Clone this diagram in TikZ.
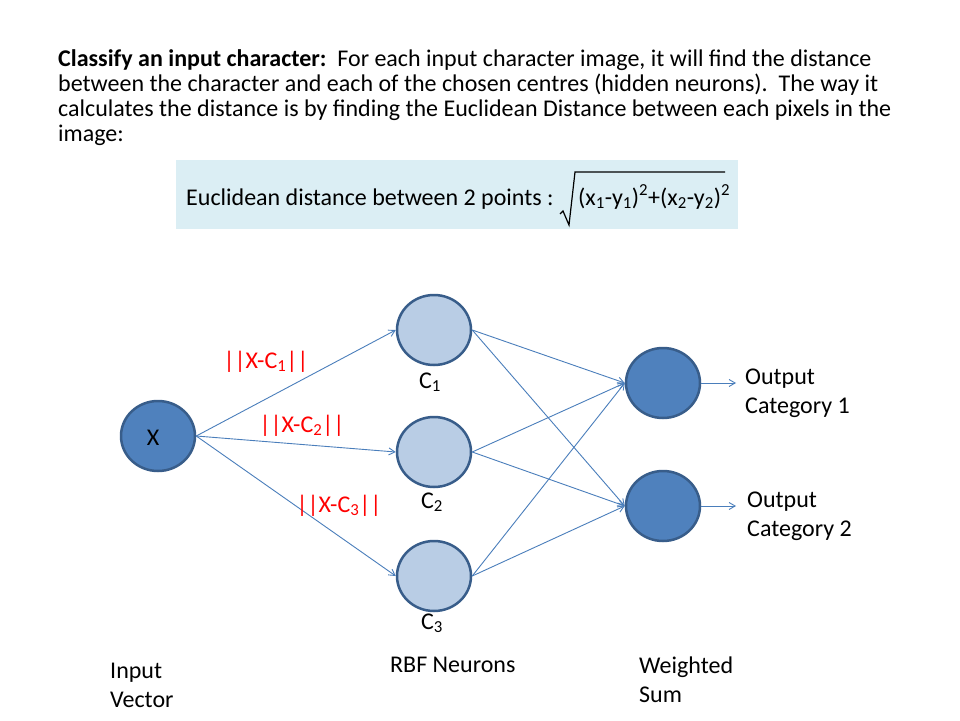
\documentclass[tikz,border=0pt]{standalone}
\usepackage{fontspec}
\setmainfont{Carlito}
\usetikzlibrary{arrows.meta,shapes.geometric}
\definecolor{darkfill}{HTML}{4F81BD}
\definecolor{ringcol}{HTML}{385D8A}
\definecolor{lightfill}{HTML}{B9CDE5}
\definecolor{boxfill}{HTML}{DBEEF4}
\definecolor{edgecol}{HTML}{4A7EBB}
\begin{document}
\begin{tikzpicture}[x=1pt,y=-1pt,
  txt/.style={font=\fontsize{24}{24.7}\selectfont, inner sep=0pt, anchor=base west, align=left, text=black},
  wide/.style={txt, font=\fontsize{24}{29}\selectfont},
  lbl/.style={font=\fontsize{24}{24.7}\selectfont, inner sep=0pt, anchor=base, text=black},
  redlbl/.style={font=\fontsize{24}{24.7}\selectfont, inner sep=0pt, anchor=base, text=red},
  neuron/.style={ellipse, minimum width=74pt, minimum height=70pt, inner sep=0pt, draw=ringcol, line width=2.5pt},
  darkn/.style={neuron, fill=darkfill},
  lightn/.style={neuron, fill=lightfill},
  conn/.style={draw=edgecol, line width=0.9pt, -{Straight Barb[angle=60:7pt]}}
]
\useasboundingbox (0,0) rectangle (960,720);
\fill[white] (0,0) rectangle (960,720);

% intro text (anchor = baseline of last line)
\node[txt] (intro) at (58,141) {\textbf{Classify an input character:}\ \ For each input character image, it will find the distance\\
between the character and each of the chosen centres (hidden neurons).\ \ The way it\\
calculates the distance is by finding the Euclidean Distance between each pixels in the\\
image:};

% formula box
\node[fill=boxfill, minimum width=562pt, minimum height=69pt, inner sep=0pt, anchor=north west] (box) at (176,160) {};
\node[txt] (eq) at (186,205) {Euclidean distance between 2 points :};
\node[txt] (formula) at (578,205) {(x\textsubscript{1}-y\textsubscript{1})\textsuperscript{2}+(x\textsubscript{2}-y\textsubscript{2})\textsuperscript{2}};
\draw[line width=1.2pt, line join=miter] (560,214) -- (563,211) -- (569,225) -- (575,172) -- (725,172);

% nodes
\node[darkn] (X) at (158,436) {};
\node[lbl] at (153,445) {X};
\node[lightn] (C1) at (434,330) {};
\node[lightn] (C2) at (434,452) {};
\node[lightn] (C3) at (434,576) {};
\node[darkn] (O1) at (663,383) {};
\node[darkn] (O2) at (663,506) {};
\coordinate (E1) at (736,383);
\coordinate (E2) at (736,506);

% edges
\draw[conn] (X.east) -- (C1.west);
\draw[conn] (X.east) -- (C2.west);
\draw[conn] (X.east) -- (C3.west);
\foreach \c in {C1,C2,C3}{
  \draw[conn] (\c.east) -- (O1.west);
  \draw[conn] (\c.east) -- (O2.west);
}
\draw[conn] (O1.east) -- (E1);
\draw[conn] (O2.east) -- (E2);

% labels
\node[redlbl] (l1) at (266,368) {||X-C\textsubscript{1}||};
\node[redlbl] (l2) at (302,432) {||X-C\textsubscript{2}||};
\node[redlbl] (l3) at (339,512) {||X-C\textsubscript{3}||};
\node[lbl] (c1l) at (430,388) {C\textsubscript{1}};
\node[lbl] (c2l) at (432,508) {C\textsubscript{2}};
\node[lbl] (c3l) at (432,629) {C\textsubscript{3}};

\node[wide] (o1t) at (745,413) {Output\\Category 1};
\node[wide] (o2t) at (747,536) {Output\\Category 2};
\node[wide] (inv) at (110,707) {Input\\Vector};
\node[txt] (rbf) at (390,672) {RBF Neurons};
\node[wide] (ws) at (639,702) {Weighted\\Sum};
\end{tikzpicture}
\end{document}
